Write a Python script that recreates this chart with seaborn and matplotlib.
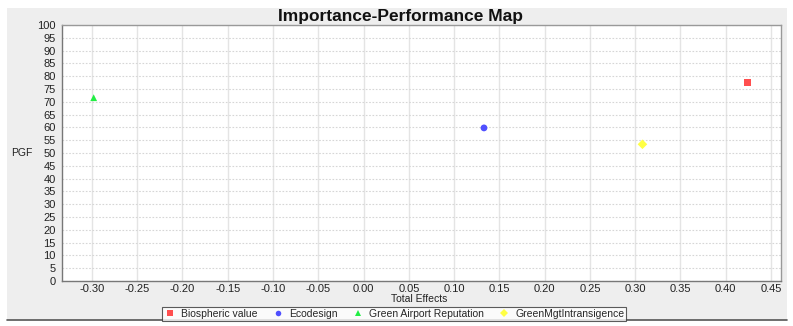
import matplotlib
matplotlib.use("Agg")
import matplotlib.pyplot as plt
import seaborn as sns
import pandas as pd
from matplotlib.patches import Rectangle
from matplotlib.lines import Line2D

constructs = ["Biospheric value", "Ecodesign", "Green Airport Reputation", "GreenMgtIntransigence"]
total_effects = [0.424, 0.133, -0.298, 0.308]
performance = [77.5, 59.8, 71.6, 53.4]
x_ticks = [-0.30, -0.25, -0.20, -0.15, -0.10, -0.05, 0.00, 0.05, 0.10, 0.15, 0.20, 0.25, 0.30, 0.35, 0.40, 0.45]
y_ticks = list(range(0, 101, 5))

df = pd.DataFrame({"Construct": constructs, "Total Effects": total_effects, "PGF": performance})

sns.set_theme(style="white")
plt.rcParams['font.family'] = ['Liberation Sans', 'DejaVu Sans']

W, H = 793, 326
fig = plt.figure(figsize=(W / 100, H / 100), dpi=100)
fig.patch.set_facecolor("white")

# gray panel
fig.patches.append(Rectangle((7 / W, 1 - 320 / H), (787 - 7) / W, (320 - 8) / H,
                             transform=fig.transFigure, facecolor="#eeeeee", edgecolor="none", zorder=-5))
fig.lines.append(Line2D([7 / W, 787 / W], [1 - 320 / H, 1 - 320 / H], transform=fig.transFigure,
                        color="#555555", lw=1.2, zorder=-4))

left, right, top, bottom = 62, 781, 25, 281
ax = fig.add_axes([left / W, 1 - bottom / H, (right - left) / W, (bottom - top) / H])
ax.set_facecolor("white")

palette = {"Biospheric value": "#ff4f4f", "Ecodesign": "#5050ff",
           "Green Airport Reputation": "#22ee44", "GreenMgtIntransigence": "#ffff44"}
markers = {"Biospheric value": "s", "Ecodesign": "o",
           "Green Airport Reputation": "^", "GreenMgtIntransigence": "D"}
sns.scatterplot(data=df, x="Total Effects", y="PGF", hue="Construct", style="Construct",
                palette=palette, markers=markers, s=24, linewidth=0, ax=ax, zorder=3, legend=False)

ax.set_xlim(-0.333, 0.461)
ax.set_ylim(0, 100)
ax.set_xticks(x_ticks)
ax.set_xticklabels([f"{v:.2f}" for v in x_ticks])
ax.set_yticks(y_ticks)
ax.tick_params(axis="both", labelsize=8, length=2.5, width=0.8, color="#888888", pad=2, labelcolor="#222222")
ax.tick_params(axis="x", length=2, pad=0.5)
ax.grid(True, axis="x", color="#e4e4e4", lw=1.0, ls="-")
ax.grid(True, axis="y", color="#d6d6d6", lw=0.8, ls=(0, (1.5, 1.5)))
ax.set_axisbelow(True)
for s in ax.spines.values():
    s.set_color("#999999")
    s.set_linewidth(1.0)
ax.spines["left"].set_color("#777777")
ax.spines["bottom"].set_color("#777777")

ax.set_xlabel("")
ax.set_ylabel("")
fig.text(419 / W, 1 - 299.5 / H, "Total Effects", ha="center", va="center", fontsize=7.5, color="#222222")
fig.text(22 / W, 1 - 153 / H, "PGF", ha="center", va="center", fontsize=7.5, color="#222222")
fig.text(400 / W, 1 - 16 / H, "Importance-Performance Map", ha="center", va="center",
         fontsize=12.5, fontweight="bold", color="#111111")

handles = [Line2D([], [], ls="none", marker=markers[c], color=palette[c], markersize=4, markeredgewidth=0)
           for c in constructs]
leg = fig.legend(handles, constructs, loc="center", bbox_to_anchor=(394 / W, 1 - 314 / H), ncol=4,
                 fontsize=7.5, frameon=True, fancybox=False, edgecolor="#333333", borderpad=0.15,
                 handletextpad=0.5, columnspacing=1.3, handlelength=1.2)
leg.get_frame().set_linewidth(0.8)
leg.get_frame().set_facecolor("white")

fig.savefig("out.png", dpi=100)
